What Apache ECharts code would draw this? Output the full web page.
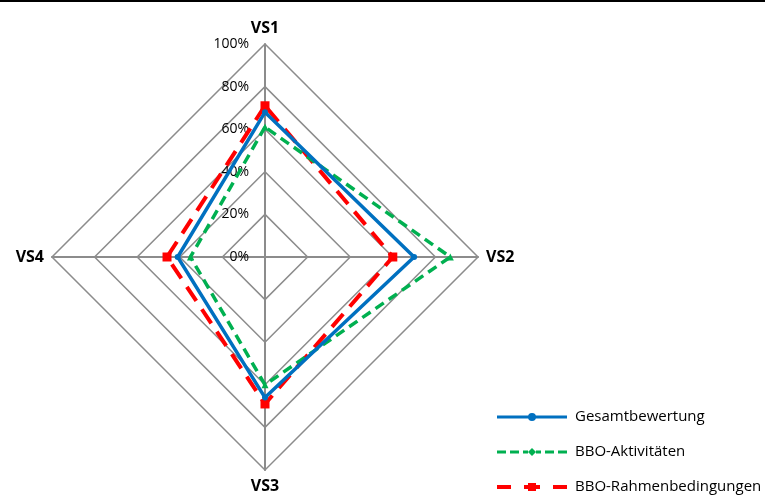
<!DOCTYPE html>
<html>
<head>
<meta charset="utf-8">
<script src="https://cdn.jsdelivr.net/npm/echarts@6/dist/echarts.min.js"></script>
<style>
  html, body { margin: 0; padding: 0; background: #fff; }
  #chart { width: 765px; height: 497px; }
</style>
</head>
<body>
<div id="chart"></div>
<script>
// Dimensions of the assessment (radar axes), listed clockwise from the top
const dimensions = ['VS1', 'VS2', 'VS3', 'VS4'];
// Scale ticks (percent)
const scaleTicks = [0, 20, 40, 60, 80, 100];
// Series values per dimension, in percent
const seriesNames = ['Gesamtbewertung', 'BBO-Aktivitäten', 'BBO-Rahmenbedingungen'];
const gesamtbewertung = [68, 70, 66, 41];
const bboAktivitaeten = [61, 87, 60, 35];
const bboRahmen = [71, 60, 69, 46];

const FONT = '"Open Sans", "Noto Sans", sans-serif';
const BLUE = '#0070C0', GREEN = '#00B050', RED = '#FF0000';

// ECharts lays radar indicators out counter-clockwise; reorder so the
// dimensions run clockwise (VS1 top, VS2 right, VS3 bottom, VS4 left).
const order = [0, 3, 2, 1];
const reorder = arr => order.map(i => arr[i]);

const chart = echarts.init(document.getElementById('chart'), null, { renderer: 'canvas' });

const center = [265, 257];
const radius = 213;
const maxVal = scaleTicks[scaleTicks.length - 1];

const legendIcons = {
  blue: 'path://M0,2.5H70V5.5H0Z M31,4A4,4 0 1 1 39,4A4,4 0 1 1 31,4Z',
  green: 'path://M0,2.5H9V5.5H0Z M13,2.5H22V5.5H13Z M26,2.5H31V5.5H26Z M35,0L39,4L35,8L31,4Z M39,2.5H44V5.5H39Z M48,2.5H57V5.5H48Z M61,2.5H70V5.5H61Z',
  red: 'path://M0,2H14V6H0Z M27,2H43V6H27Z M31,0H39V8H31Z M56,2H70V6H56Z'
};

chart.setOption({
  animation: false,
  backgroundColor: '#fff',
  graphic: [{
    type: 'rect', left: 0, top: 0,
    shape: { width: 765, height: 2 },
    style: { fill: '#000' }
  }],
  legend: {
    orient: 'vertical',
    left: 497,
    top: 408,
    height: 89,
    padding: 0,
    itemWidth: 70,
    itemHeight: 8,
    itemGap: 17,
    textStyle: { fontFamily: FONT, fontSize: 15, color: '#000', lineHeight: 18, padding: [0, 0, 0, 3] },
    data: [
      { name: seriesNames[0], icon: legendIcons.blue, itemStyle: { color: BLUE } },
      { name: seriesNames[1], icon: legendIcons.green, itemStyle: { color: GREEN } },
      { name: seriesNames[2], icon: legendIcons.red, itemStyle: { color: RED } }
    ]
  },
  radar: {
    center: center,
    radius: radius,
    startAngle: 90,
    shape: 'polygon',
    splitNumber: scaleTicks.length - 1,
    indicator: reorder(dimensions).map(n => ({ name: n, min: 0, max: maxVal })),
    axisName: { color: '#000', fontFamily: FONT, fontWeight: 'bold', fontSize: 16 },
    nameGap: 8,
    axisLine: { lineStyle: { color: '#8c8c8c', width: 2 } },
    splitLine: { lineStyle: { color: '#8c8c8c', width: 1.5 } },
    splitArea: { show: false },
    axisTick: { show: false },
    axisLabel: { show: false }
  },
  polar: { center: center, radius: radius },
  angleAxis: { show: false, startAngle: 90, min: 0, max: 360 },
  radiusAxis: {
    min: 0, max: maxVal, interval: scaleTicks[1] - scaleTicks[0],
    axisLine: { show: false },
    axisTick: { show: false },
    splitLine: { show: false },
    axisLabel: {
      formatter: '{value}%',
      fontFamily: FONT, fontSize: 14, color: '#000', margin: 16
    }
  },
  series: [
    {
      type: 'radar', name: seriesNames[0], z: 4,
      symbol: 'circle', symbolSize: 6,
      lineStyle: { color: BLUE, width: 3.5 },
      itemStyle: { color: BLUE },
      data: [{ name: seriesNames[0], value: reorder(gesamtbewertung) }]
    },
    {
      type: 'radar', name: seriesNames[1], z: 3,
      symbol: 'triangle', symbolSize: 7,
      lineStyle: { color: GREEN, width: 3.5, type: [10, 6] },
      itemStyle: { color: GREEN },
      data: [{ name: seriesNames[1], value: reorder(bboAktivitaeten) }]
    },
    {
      type: 'radar', name: seriesNames[2], z: 2,
      symbol: 'rect', symbolSize: 9,
      lineStyle: { color: RED, width: 4, type: [17, 10] },
      itemStyle: { color: RED },
      data: [{ name: seriesNames[2], value: reorder(bboRahmen) }]
    }
  ]
});
</script>
</body>
</html>
